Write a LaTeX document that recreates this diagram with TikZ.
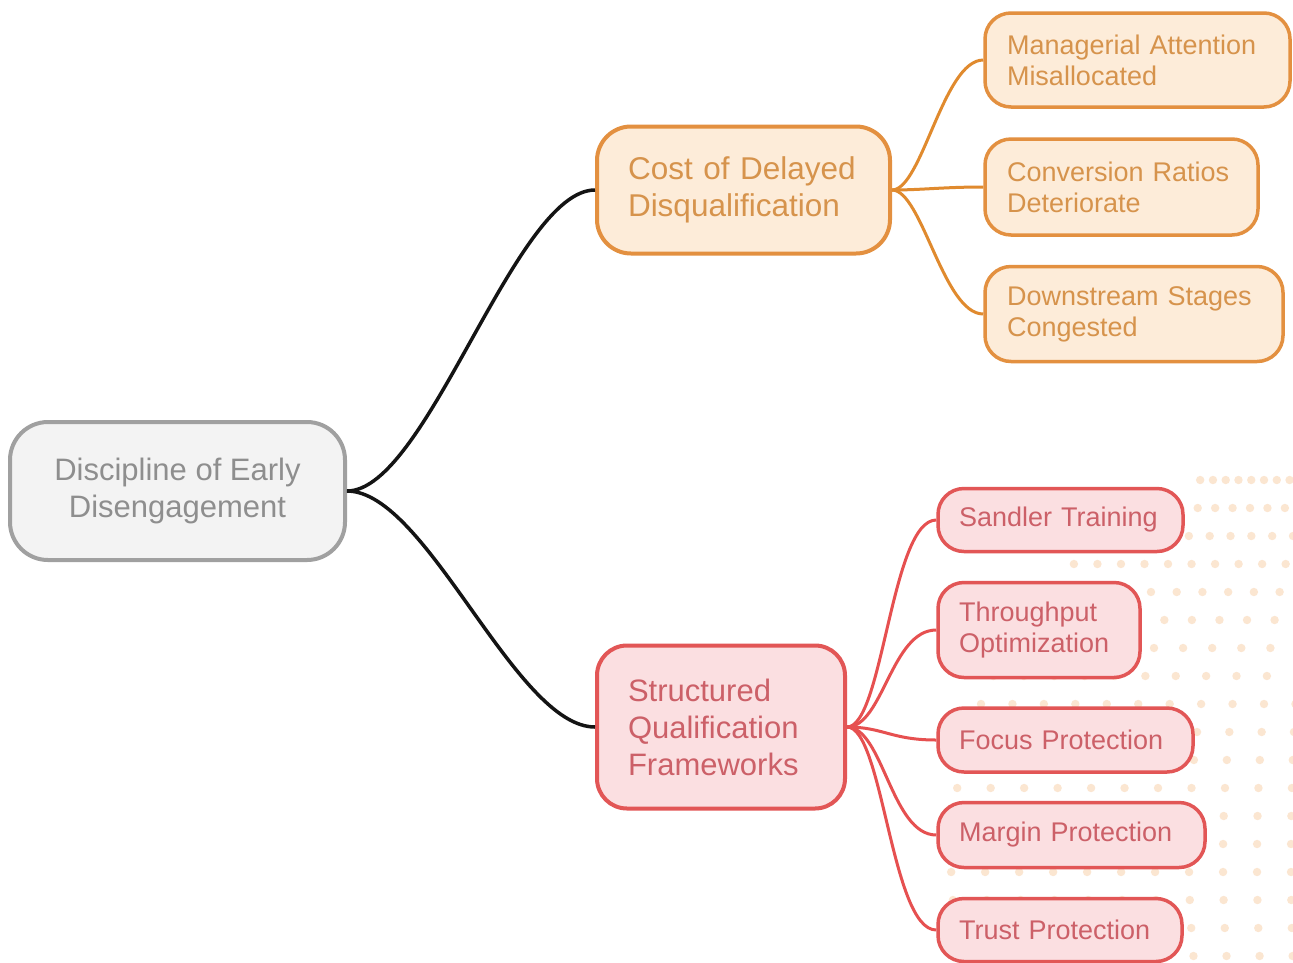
\documentclass[tikz,border=0pt]{standalone}
\usepackage{fontspec}
\setmainfont{Liberation Sans}
\definecolor{rootedge}{HTML}{A0A0A0}
\definecolor{rootfill}{HTML}{F3F3F3}
\definecolor{roottext}{HTML}{8E8E8E}
\definecolor{oedge}{HTML}{E39040}
\definecolor{ofill}{HTML}{FDECD9}
\definecolor{otext}{HTML}{D6934C}
\definecolor{redge}{HTML}{E25656}
\definecolor{rfill}{HTML}{FBDFE1}
\definecolor{rtext}{HTML}{CC6068}
\definecolor{oline}{HTML}{E08A2E}
\definecolor{rline}{HTML}{E65050}
\definecolor{dotc}{HTML}{FBE6D1}
\begin{document}
\begin{tikzpicture}[x=1pt,y=-1pt,
  rootbox/.style={draw=rootedge, fill=rootfill, line width=4pt, rounded corners=38pt,
    text=roottext, align=center, font=\fontsize{31}{37}\selectfont, inner sep=0pt},
  midorange/.style={draw=oedge, fill=ofill, line width=4pt, rounded corners=34pt,
    text=otext, align=left, font=\fontsize{31.5}{37}\selectfont, inner xsep=31pt, inner ysep=0pt},
  midred/.style={draw=redge, fill=rfill, line width=4pt, rounded corners=30pt,
    text=rtext, align=left, font=\fontsize{31}{37}\selectfont, inner xsep=31pt, inner ysep=0pt},
  leaforange/.style={draw=oedge, fill=ofill, line width=3.5pt, rounded corners=26pt,
    text=otext, align=left, font=\fontsize{27}{31}\selectfont, inner xsep=22pt, inner ysep=0pt},
  leafred/.style={draw=redge, fill=rfill, line width=3.5pt, rounded corners=26pt,
    text=rtext, align=left, font=\fontsize{27}{31}\selectfont, inner xsep=21pt, inner ysep=0pt},
  blackline/.style={draw=black!92, line width=3.5pt},
  orangeline/.style={draw=oline, line width=3pt},
  redline/.style={draw=rline, line width=3pt}
]
\fill[white] (0,0) rectangle (1293,962);
\useasboundingbox (0,0) rectangle (1293,962);
% decorative dotted globe
\begin{scope}
\clip (0,0) rectangle (1293,962);
\foreach \k in {0,...,11}{
  \foreach \yy in {480,508,...,984}{
    \fill[dotc] ({1350-(25+34*\k)*sqrt(1-((860-\yy)/410)^2)},{\yy}) circle (4.2pt);
  }
}
\end{scope}
% nodes
\node[rootbox, minimum width=335pt, minimum height=138pt] (root) at (177.5,491)
  {Discipline of Early\\Disengagement};
\node[midorange, minimum width=293pt, minimum height=127pt, text width=231pt] (cost) at (743.5,190)
  {Cost of Delayed\\Disqualification};
\node[leaforange, minimum width=305pt, minimum height=94pt, text width=261pt] (mana) at (1137.5,60)
  {Managerial Attention\\Misallocated};
\node[leaforange, minimum width=273pt, minimum height=96pt, text width=229pt] (conv) at (1121.5,187)
  {Conversion Ratios\\Deteriorate};
\node[leaforange, minimum width=298pt, minimum height=95pt, text width=254pt] (down) at (1134,314)
  {Downstream Stages\\Congested};
\node[midred, minimum width=248pt, minimum height=163pt, text width=186pt] (struct) at (721,727)
  {Structured\\Qualification\\Frameworks};
\node[leafred, minimum width=245pt, minimum height=63pt, text width=203pt] (sand) at (1060.5,520)
  {Sandler Training};
\node[leafred, minimum width=202pt, minimum height=95pt, text width=160pt] (thru) at (1039,630)
  {Throughput\\Optimization};
\node[leafred, minimum width=255pt, minimum height=64pt, text width=213pt] (focus) at (1065.5,740)
  {Focus Protection};
\node[leafred, minimum width=267pt, minimum height=65pt, text width=225pt] (margin) at (1071.5,835)
  {Margin Protection};
\node[leafred, minimum width=244pt, minimum height=63pt, text width=202pt] (trust) at (1060,930)
  {Trust Protection};
% connectors
\draw[blackline] (root.east) .. controls +(80,0) and +(-80,0) .. (cost.west);
\draw[blackline] (root.east) .. controls +(80,0) and +(-80,0) .. (struct.west);
\foreach \t in {mana,conv,down}
  \draw[orangeline] (cost.east) .. controls +(30,0) and +(-40,0) .. (\t.west);
\foreach \t in {sand,thru,focus,margin,trust}
  \draw[redline] (struct.east) .. controls +(36,0) and +(-45,0) .. (\t.west);
\end{tikzpicture}
\end{document}
